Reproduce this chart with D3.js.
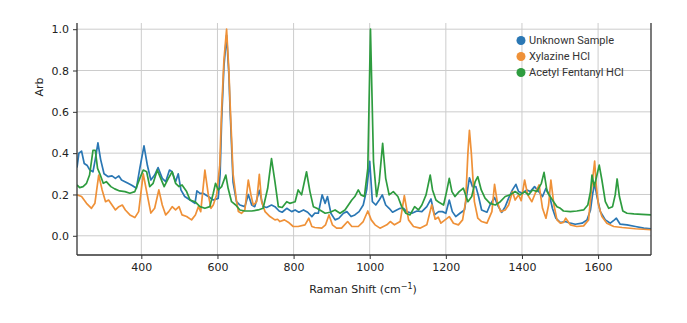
<!DOCTYPE html>
<html>
<head>
<meta charset="utf-8">
<script src="https://cdn.jsdelivr.net/npm/d3@7"></script>
<style>
  html, body { margin: 0; padding: 0; background: #fff; }
  svg { display: block; }
</style>
</head>
<body>
<div id="chart"></div>
<script>
// ---- Data ----
const seriesNames = ["Unknown Sample", "Xylazine HCl", "Acetyl Fentanyl HCl"];

const unknownSample = [
[231,0.33],[236,0.40],[243,0.41],[250,0.35],[258,0.34],[264,0.32],[273,0.31],[279,0.37],[286,0.45],[293,0.37],
[302,0.30],[313,0.286],[323,0.29],[332,0.278],[341,0.29],[348,0.27],[357,0.262],[365,0.254],[376,0.243],[387,0.23],
[396,0.326],[407,0.435],[416,0.34],[425,0.27],[435,0.294],[444,0.33],[455,0.278],[464,0.262],[474,0.318],[481,0.31],
[490,0.262],[497,0.30],[504,0.222],[514,0.19],[528,0.173],[541,0.157],[546,0.217],[554,0.205],[562,0.206],[576,0.19],
[589,0.173],[602,0.181],[607,0.3],[611,0.56],[617,0.82],[624,0.97],[630,0.78],[633,0.62],[641,0.26],[650,0.165],[659,0.149],
[672,0.141],[681,0.20],[690,0.149],[698,0.141],[710,0.22],[720,0.141],[729,0.137],[742,0.149],[751,0.141],[762,0.12],
[770,0.114],[782,0.133],[795,0.117],[804,0.125],[814,0.114],[826,0.125],[837,0.114],[848,0.093],[856,0.11],[865,0.109],
[875,0.198],[883,0.157],[889,0.19],[898,0.109],[909,0.077],[919,0.085],[931,0.109],[940,0.117],[951,0.093],[961,0.101],
[972,0.117],[983,0.149],[992,0.222],[1000,0.36],[1007,0.165],[1016,0.149],[1025,0.173],[1033,0.198],[1042,0.149],[1051,0.133],
[1060,0.114],[1071,0.125],[1080,0.133],[1089,0.133],[1097,0.117],[1111,0.109],[1124,0.12],[1137,0.117],[1150,0.141],[1161,0.178],
[1170,0.101],[1181,0.117],[1191,0.117],[1200,0.109],[1209,0.173],[1217,0.117],[1226,0.093],[1237,0.109],[1249,0.125],[1255,0.198],
[1262,0.281],[1270,0.238],[1279,0.238],[1286,0.19],[1294,0.125],[1308,0.114],[1316,0.149],[1328,0.185],[1338,0.141],[1347,0.114],
[1356,0.141],[1365,0.182],[1375,0.222],[1384,0.249],[1391,0.214],[1401,0.206],[1413,0.222],[1422,0.214],[1433,0.238],[1444,0.214],
[1454,0.19],[1463,0.23],[1472,0.198],[1480,0.133],[1489,0.085],[1501,0.064],[1514,0.069],[1527,0.061],[1540,0.056],[1558,0.061],
[1571,0.077],[1580,0.125],[1586,0.206],[1591,0.254],[1597,0.19],[1606,0.117],[1619,0.077],[1632,0.061],[1643,0.077],[1648,0.085],
[1658,0.056],[1676,0.053],[1698,0.045],[1720,0.037],[1740,0.034]
];

const xylazineHCl = [
[231,0.198],[243,0.19],[256,0.157],[269,0.133],[278,0.157],[288,0.294],[297,0.222],[306,0.165],[314,0.173],[323,0.149],
[332,0.125],[341,0.141],[350,0.149],[358,0.125],[370,0.101],[383,0.088],[393,0.117],[405,0.30],[414,0.214],[425,0.11],
[435,0.133],[446,0.222],[455,0.149],[464,0.101],[472,0.117],[481,0.141],[490,0.125],[499,0.141],[507,0.101],[519,0.093],
[532,0.077],[542,0.101],[550,0.141],[556,0.117],[567,0.318],[576,0.198],[583,0.133],[589,0.149],[598,0.2],[606,0.342],
[611,0.61],[617,0.85],[624,1.0],[630,0.8],[633,0.65],[641,0.30],[650,0.17],[655,0.117],[663,0.109],[672,0.125],
[681,0.27],[688,0.198],[694,0.149],[703,0.165],[710,0.297],[716,0.165],[725,0.117],[738,0.093],[751,0.077],[758,0.08],
[764,0.069],[776,0.077],[786,0.066],[799,0.045],[812,0.045],[830,0.053],[840,0.085],[848,0.045],[856,0.04],[874,0.037],
[884,0.053],[893,0.101],[902,0.053],[913,0.037],[926,0.037],[942,0.069],[953,0.045],[970,0.045],[983,0.069],[995,0.12],
[1004,0.077],[1014,0.053],[1027,0.037],[1045,0.053],[1054,0.069],[1065,0.053],[1080,0.069],[1091,0.194],[1102,0.077],[1115,0.045],
[1132,0.037],[1150,0.053],[1163,0.15],[1172,0.08],[1180,0.09],[1187,0.061],[1198,0.077],[1209,0.093],[1220,0.061],[1233,0.053],
[1244,0.077],[1252,0.165],[1258,0.40],[1262,0.51],[1267,0.40],[1275,0.165],[1284,0.085],[1294,0.069],[1308,0.061],[1321,0.117],
[1328,0.249],[1335,0.165],[1344,0.117],[1356,0.125],[1365,0.149],[1375,0.214],[1382,0.173],[1391,0.198],[1398,0.17],[1407,0.27],
[1415,0.198],[1426,0.165],[1435,0.206],[1445,0.246],[1454,0.133],[1463,0.085],[1470,0.149],[1476,0.27],[1484,0.149],[1492,0.077],
[1501,0.061],[1509,0.065],[1515,0.085],[1527,0.053],[1544,0.045],[1562,0.048],[1575,0.077],[1582,0.214],[1591,0.361],[1595,0.246],
[1601,0.149],[1610,0.093],[1623,0.061],[1641,0.045],[1663,0.04],[1698,0.034],[1740,0.029]
];

const acetylFentanylHCl = [
[231,0.246],[238,0.233],[247,0.238],[256,0.254],[264,0.294],[273,0.414],[279,0.414],[285,0.326],[291,0.30],[300,0.254],
[308,0.262],[320,0.238],[330,0.227],[343,0.217],[357,0.214],[370,0.206],[383,0.214],[396,0.278],[405,0.318],[414,0.31],
[422,0.238],[431,0.254],[442,0.318],[451,0.278],[460,0.238],[471,0.278],[481,0.31],[490,0.254],[499,0.238],[507,0.246],
[519,0.214],[528,0.173],[541,0.165],[554,0.141],[567,0.133],[580,0.141],[589,0.206],[595,0.254],[602,0.222],[611,0.238],
[622,0.294],[628,0.23],[637,0.165],[648,0.149],[659,0.125],[672,0.12],[690,0.12],[707,0.125],[720,0.133],[732,0.23],
[742,0.374],[751,0.262],[760,0.141],[770,0.137],[782,0.165],[790,0.157],[804,0.165],[812,0.222],[821,0.198],[834,0.31],
[843,0.214],[852,0.141],[861,0.133],[869,0.125],[883,0.109],[896,0.114],[909,0.125],[922,0.109],[935,0.125],[944,0.149],
[953,0.173],[961,0.19],[970,0.222],[977,0.198],[986,0.19],[995,0.326],[1002,1.0],[1010,0.358],[1018,0.19],[1025,0.262],
[1034,0.447],[1042,0.278],[1051,0.198],[1062,0.214],[1074,0.19],[1084,0.141],[1095,0.109],[1106,0.101],[1118,0.141],[1128,0.125],
[1137,0.149],[1148,0.198],[1159,0.294],[1165,0.222],[1174,0.173],[1182,0.162],[1194,0.149],[1202,0.214],[1209,0.278],[1216,0.214],
[1224,0.19],[1235,0.214],[1246,0.23],[1258,0.165],[1268,0.19],[1277,0.262],[1284,0.286],[1293,0.222],[1303,0.182],[1316,0.157],
[1330,0.149],[1343,0.165],[1356,0.19],[1369,0.198],[1382,0.214],[1395,0.198],[1407,0.214],[1417,0.198],[1428,0.222],[1439,0.214],
[1451,0.254],[1458,0.307],[1466,0.214],[1474,0.19],[1483,0.165],[1492,0.141],[1501,0.133],[1509,0.12],[1527,0.117],[1544,0.12],
[1562,0.125],[1573,0.149],[1580,0.214],[1584,0.294],[1590,0.238],[1597,0.294],[1603,0.342],[1610,0.27],[1619,0.165],[1628,0.133],
[1638,0.141],[1645,0.198],[1650,0.275],[1656,0.19],[1665,0.12],[1676,0.109],[1694,0.106],[1715,0.104],[1740,0.101]
];

const xTicks = [400, 600, 800, 1000, 1200, 1400, 1600];
const yTicks = [0.0, 0.2, 0.4, 0.6, 0.8, 1.0];
const colors = ["#2a77b4", "#ef9138", "#2e9c3f"];

// ---- Layout ----
const W = 687, H = 323;
const margin = { top: 23, right: 36, bottom: 68, left: 77 };

const svg = d3.select("#chart").append("svg")
  .attr("width", W).attr("height", H);

const x = d3.scaleLinear().domain([231, 1739]).range([margin.left, W - margin.right]);
const y = d3.scaleLinear().domain([-0.093, 1.03]).range([H - margin.bottom, margin.top]);

// grid
const grid = svg.append("g");
grid.selectAll("line.gx").data(xTicks).join("line")
  .attr("x1", d => x(d)).attr("x2", d => x(d))
  .attr("y1", margin.top).attr("y2", H - margin.bottom)
  .attr("stroke", "#cccccc").attr("stroke-width", 1);
grid.selectAll("line.gy").data(yTicks).join("line")
  .attr("x1", margin.left).attr("x2", W - margin.right)
  .attr("y1", d => y(d)).attr("y2", d => y(d))
  .attr("stroke", "#cccccc").attr("stroke-width", 1);

// lines
svg.append("clipPath").attr("id", "clip").append("rect")
  .attr("x", margin.left).attr("y", margin.top)
  .attr("width", W - margin.left - margin.right)
  .attr("height", H - margin.top - margin.bottom);

const line = d3.line().x(d => x(d[0])).y(d => y(d[1]));
const allSeries = [unknownSample, xylazineHCl, acetylFentanylHCl];
const gLines = svg.append("g").attr("clip-path", "url(#clip)");
allSeries.forEach((s, i) => {
  gLines.append("path").datum(s)
    .attr("d", line)
    .attr("fill", "none")
    .attr("stroke", colors[i])
    .attr("stroke-width", 1.7)
    .attr("stroke-linejoin", "round");
});

// axes
const fontAxis = "'DejaVu Sans', sans-serif";
const xAxis = svg.append("g")
  .attr("transform", `translate(0,${H - margin.bottom})`)
  .call(d3.axisBottom(x).tickValues(xTicks).tickSize(4).tickPadding(4).tickFormat(d3.format("d")));
const yAxis = svg.append("g")
  .attr("transform", `translate(${margin.left},0)`)
  .call(d3.axisLeft(y).tickValues(yTicks).tickSize(4).tickPadding(4).tickFormat(d3.format(".1f")));
[xAxis, yAxis].forEach(a => {
  a.select(".domain").remove();
  a.selectAll(".tick line").attr("stroke", "#333").attr("stroke-width", 1);
  a.selectAll(".tick text").attr("fill", "#222").style("font-family", fontAxis).style("font-size", "11px");
});

// spines: left, bottom, right
svg.append("line").attr("x1", margin.left).attr("x2", margin.left)
  .attr("y1", margin.top).attr("y2", H - margin.bottom)
  .attr("stroke", "#333").attr("stroke-width", 1.3);
svg.append("line").attr("x1", W - margin.right).attr("x2", W - margin.right)
  .attr("y1", margin.top).attr("y2", H - margin.bottom)
  .attr("stroke", "#333").attr("stroke-width", 1.3);
svg.append("line").attr("x1", margin.left).attr("x2", W - margin.right)
  .attr("y1", H - margin.bottom).attr("y2", H - margin.bottom)
  .attr("stroke", "#333").attr("stroke-width", 1.3);

// axis titles
const xt = svg.append("text")
  .attr("x", 363).attr("y", 293)
  .attr("text-anchor", "middle")
  .attr("fill", "#222")
  .style("font-family", fontAxis).style("font-size", "11px");
xt.append("tspan").text("Raman Shift (cm");
xt.append("tspan").attr("dy", -4).style("font-size", "8px").text("−1");
xt.append("tspan").attr("dy", 4).text(")");

svg.append("text")
  .attr("transform", "translate(43,87) rotate(-90)")
  .attr("text-anchor", "middle")
  .attr("fill", "#222")
  .style("font-family", fontAxis).style("font-size", "11px")
  .text("Arb");

// legend
const legend = svg.append("g");
const legendY = [40.5, 56.5, 72.5];
seriesNames.forEach((name, i) => {
  legend.append("circle")
    .attr("cx", 521).attr("cy", legendY[i]).attr("r", 4.5)
    .attr("fill", colors[i]);
  legend.append("text")
    .attr("x", 529).attr("y", legendY[i])
    .attr("dy", "0.35em")
    .attr("fill", "#333")
    .style("font-family", "Roboto, sans-serif").style("font-size", "11px")
    .text(name);
});
</script>
</body>
</html>
